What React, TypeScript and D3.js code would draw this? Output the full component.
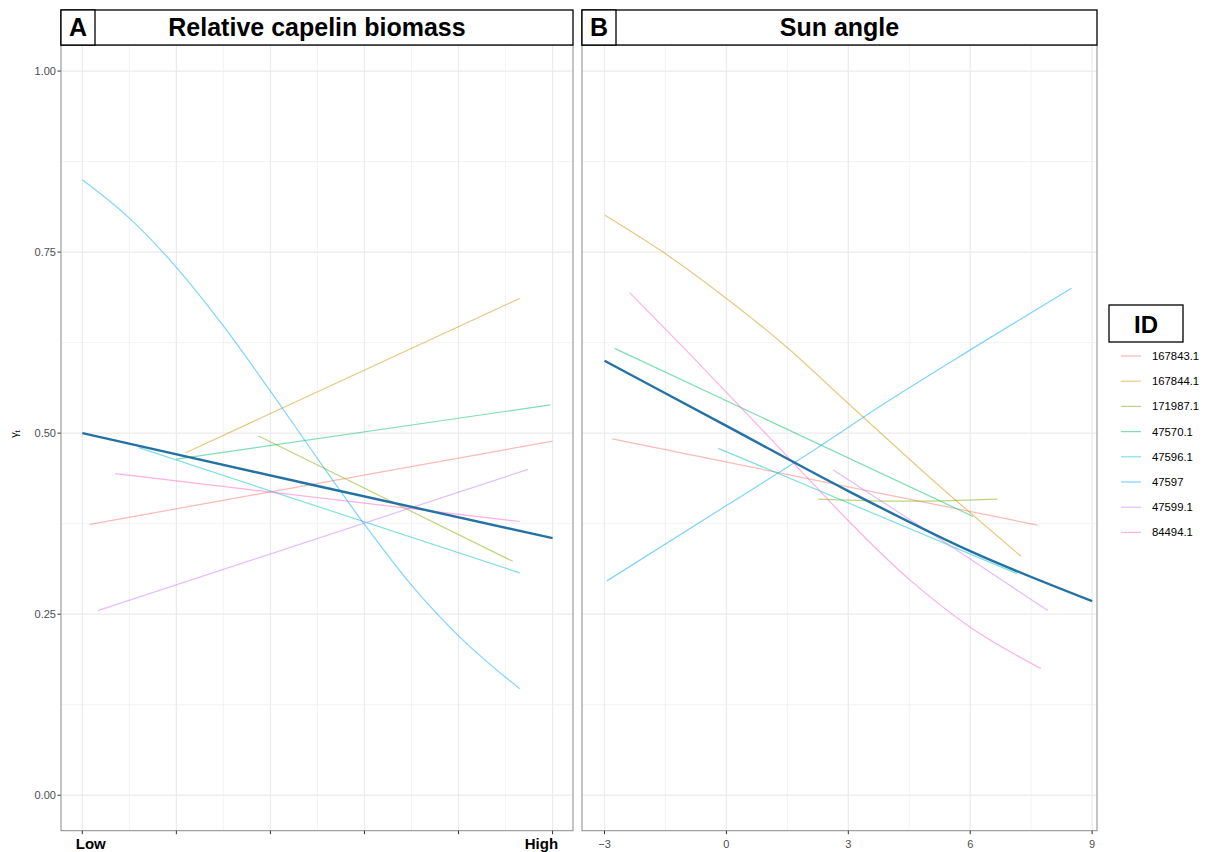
import React from 'react';
import * as d3 from 'd3';

type Pt = [number, number];

// Legend / series ids (ggplot default hue palette)
const IDS = ['167843.1', '167844.1', '171987.1', '47570.1', '47596.1', '47597', '47599.1', '84494.1'];
const ID_COLORS = ['#F8766D', '#CD9600', '#7CAE00', '#00BE67', '#00BFC4', '#00A9FF', '#C77CFF', '#FF61CC'];
const MEAN_COLOR = '#2471a3';

const Y_TICKS = [0, 0.25, 0.5, 0.75, 1];
const Y_MINOR = [0.125, 0.375, 0.625, 0.875];

const A_TICKS = [0, 0.2, 0.4, 0.6, 0.8, 1];
const A_MINOR = [0.1, 0.3, 0.5, 0.7, 0.9];
const A_TICK_LABELS = ['Low', '', '', '', '', 'High'];

const B_TICKS = [-3, 0, 3, 6, 9];
const B_MINOR = [-1.5, 1.5, 4.5, 7.5];

// Panel A: relative capelin biomass (0 = low, 1 = high)
const A_MEAN: Pt[] = [[0, 0.5], [0.5, 0.427], [1, 0.355]];
const A_167843: Pt[] = [[0.016, 0.374], [1.0, 0.489]];
const A_167844: Pt[] = [[0.22, 0.473], [0.93, 0.686]];
const A_171987: Pt[] = [[0.375, 0.496], [0.915, 0.323]];
const A_47570: Pt[] = [[0.2, 0.464], [0.995, 0.539]];
const A_47596: Pt[] = [[0.12, 0.48], [0.93, 0.307]];
const A_47597: Pt[] = [[0, 0.85], [0.1, 0.797], [0.2, 0.729], [0.3, 0.648], [0.4, 0.558], [0.5, 0.465], [0.6, 0.374], [0.7, 0.29], [0.8, 0.22], [0.93, 0.147]];
const A_47599: Pt[] = [[0.033, 0.255], [0.948, 0.45]];
const A_84494: Pt[] = [[0.07, 0.444], [0.93, 0.378]];

// Panel B: sun angle
const B_MEAN: Pt[] = [[-3, 0.6], [0, 0.51], [3, 0.42], [6, 0.337], [9, 0.268]];
const B_167843: Pt[] = [[-2.81, 0.492], [7.65, 0.373]];
const B_167844: Pt[] = [[-2.99, 0.801], [-1.56, 0.75], [0, 0.686], [1.48, 0.619], [2.96, 0.543], [5.06, 0.436], [7.25, 0.33]];
const B_171987: Pt[] = [[2.26, 0.409], [4.4, 0.406], [6.67, 0.409]];
const B_47570: Pt[] = [[-2.75, 0.617], [6.07, 0.385]];
const B_47596: Pt[] = [[-0.2, 0.479], [7.15, 0.306]];
const B_47597: Pt[] = [[-2.94, 0.296], [0, 0.4], [2.14, 0.476], [4, 0.545], [6, 0.615], [8.49, 0.7]];
const B_47599: Pt[] = [[2.63, 0.449], [5.3, 0.352], [7.91, 0.255]];
const B_84494: Pt[] = [[-2.38, 0.694], [-1, 0.615], [0.5, 0.527], [2, 0.438], [3, 0.379], [4.5, 0.298], [6, 0.232], [7.74, 0.175]];

const A_SERIES = [A_167843, A_167844, A_171987, A_47570, A_47596, A_47597, A_47599, A_84494];
const B_SERIES = [B_167843, B_167844, B_171987, B_47570, B_47596, B_47597, B_47599, B_84494];

const FONT = '"Liberation Sans", Arial, Helvetica, sans-serif';
const W = 1210;
const H = 852;
const TOP = 45;
const BOTTOM = 830.7;

const y = d3.scaleLinear().domain([-0.049, 1.036]).range([BOTTOM, TOP]);

type PanelProps = {
  x: d3.ScaleLinear<number, number>;
  ticks: number[];
  minor: number[];
  labels: string[];
  series: Pt[][];
  mean: Pt[];
  letter: string;
  title: string;
  boldLabels: boolean;
};

const Panel = ({ x, ticks, minor, labels, series, mean, letter, title, boldLabels }: PanelProps) => {
  const [x0, x1] = x.range();
  const line = d3.line<Pt>().x(d => x(d[0])).y(d => y(d[1])).curve(d3.curveMonotoneX);
  return (
    <g>
      <rect x={x0} y={TOP} width={x1 - x0} height={BOTTOM - TOP} fill="#fff" />
      {Y_MINOR.map(v => (
        <line key={'ym' + v} x1={x0} x2={x1} y1={y(v)} y2={y(v)} stroke="#ebebeb" strokeWidth={0.6} />
      ))}
      {minor.map(v => (
        <line key={'xm' + v} x1={x(v)} x2={x(v)} y1={TOP} y2={BOTTOM} stroke="#ebebeb" strokeWidth={0.6} />
      ))}
      {Y_TICKS.map(v => (
        <line key={'y' + v} x1={x0} x2={x1} y1={y(v)} y2={y(v)} stroke="#ebebeb" strokeWidth={1.2} />
      ))}
      {ticks.map(v => (
        <line key={'x' + v} x1={x(v)} x2={x(v)} y1={TOP} y2={BOTTOM} stroke="#ebebeb" strokeWidth={1.2} />
      ))}
      {series.map((s, i) => (
        <path key={IDS[i]} d={line(s) ?? ''} fill="none" stroke={ID_COLORS[i]} strokeOpacity={0.5} strokeWidth={1.2} />
      ))}
      <path d={line(mean) ?? ''} fill="none" stroke={MEAN_COLOR} strokeWidth={2.4} />
      <rect x={x0} y={TOP} width={x1 - x0} height={BOTTOM - TOP} fill="none" stroke="#8a8a8a" strokeWidth={1} />
      {ticks.map(v => (
        <line key={'t' + v} x1={x(v)} x2={x(v)} y1={BOTTOM} y2={BOTTOM + 3.5} stroke="#333" strokeWidth={1} />
      ))}
      {boldLabels ? (
        <g fontFamily={FONT} fontWeight="bold" fontSize={15} fill="#000">
          <text x={x(ticks[0]) - 6.5} y={849} textAnchor="start">{labels[0]}</text>
          <text x={x(ticks[ticks.length - 1]) + 5.5} y={849} textAnchor="end">{labels[labels.length - 1]}</text>
        </g>
      ) : (
        <g fontFamily={FONT} fontSize={11} fill="#4d4d4d">
          {ticks.map((v, i) => (
            <text key={'l' + v} x={x(v)} y={848} textAnchor="middle">{labels[i]}</text>
          ))}
        </g>
      )}
      {/* strip */}
      <rect x={x0} y={10} width={x1 - x0} height={TOP - 10} fill="#fff" stroke="#000" strokeWidth={1.3} />
      <text x={(x0 + x1) / 2} y={36} textAnchor="middle" fontFamily={FONT} fontWeight="bold" fontSize={25}>{title}</text>
      <rect x={x0} y={10} width={34} height={TOP - 10} fill="#fff" stroke="#000" strokeWidth={1.3} />
      <text x={x0 + 17} y={36} textAnchor="middle" fontFamily={FONT} fontWeight="bold" fontSize={25}>{letter}</text>
    </g>
  );
};

export default function App() {
  const xA = d3.scaleLinear().domain([-0.0453, 1.0434]).range([61, 573]);
  const xB = d3.scaleLinear().domain([-3.554, 9.12]).range([582, 1097]);
  const bLabels = B_TICKS.map(v => (v < 0 ? '\u2212' + Math.abs(v) : String(v)));

  return (
    <div style={{ position: 'absolute', left: 0, top: 0 }}>
      <svg width={W} height={H} viewBox={`0 0 ${W} ${H}`} style={{ display: 'block', background: '#fff' }}>
        <rect width={W} height={H} fill="#fff" />
        {/* y axis */}
        <g fontFamily={FONT} fontSize={11} fill="#4d4d4d">
          {Y_TICKS.map(v => (
            <g key={'yt' + v}>
              <text x={56} y={y(v) + 4} textAnchor="end">{v.toFixed(2)}</text>
              <line x1={57.5} x2={61} y1={y(v)} y2={y(v)} stroke="#333" strokeWidth={1} />
            </g>
          ))}
        </g>
        <text transform={`translate(18,434) rotate(-90)`} textAnchor="middle" fontFamily={FONT} fontSize={11} fill="#000">
          γ<tspan fontSize={8} dy={2}>t</tspan>
        </text>

        <Panel x={xA} ticks={A_TICKS} minor={A_MINOR} labels={A_TICK_LABELS} series={A_SERIES} mean={A_MEAN}
          letter="A" title="Relative capelin biomass" boldLabels={true} />
        <Panel x={xB} ticks={B_TICKS} minor={B_MINOR} labels={bLabels} series={B_SERIES} mean={B_MEAN}
          letter="B" title="Sun angle" boldLabels={false} />

        {/* legend */}
        <rect x={1109} y={305} width={74} height={37} fill="#fff" stroke="#000" strokeWidth={1.3} />
        <text x={1146} y={333} textAnchor="middle" fontFamily={FONT} fontWeight="bold" fontSize={24}>ID</text>
        {IDS.map((id, i) => {
          const ly = 356 + i * 25.2;
          return (
            <g key={id}>
              <line x1={1121} x2={1141} y1={ly} y2={ly} stroke={ID_COLORS[i]} strokeOpacity={0.5} strokeWidth={1.2} />
              <text x={1152} y={ly + 4} fontFamily={FONT} fontSize={11.3} fill="#000">{id}</text>
            </g>
          );
        })}
      </svg>
    </div>
  );
}
